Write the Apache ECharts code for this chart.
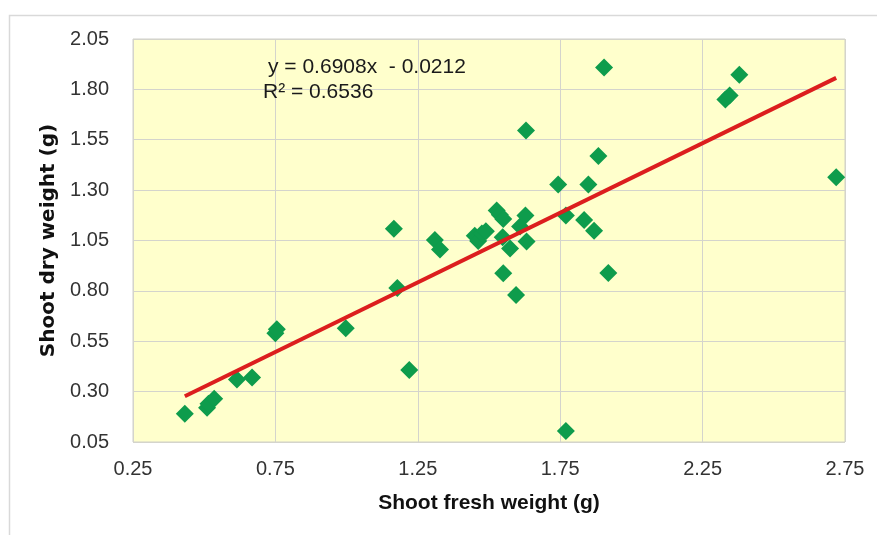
<!DOCTYPE html>
<html>
<head>
<meta charset="utf-8">
<script src="https://cdn.jsdelivr.net/npm/echarts@6/dist/echarts.min.js"></script>
<style>html,body{margin:0;padding:0;background:#fff}#c{width:877px;height:535px}</style>
</head>
<body>
<div id="c"></div>
<script>
// Shoot fresh weight (g)
const freshWeight = [0.432, 0.51, 0.515, 0.535, 0.615, 0.668, 0.75, 0.755, 0.997, 1.166, 1.178, 1.22, 1.31, 1.328, 1.45, 1.462, 1.475, 1.489, 1.527, 1.538, 1.55, 1.548, 1.574, 1.55, 1.595, 1.609, 1.628, 1.632, 1.63, 1.743, 1.77, 1.77, 1.834, 1.849, 1.869, 1.884, 1.904, 1.919, 2.33, 2.345, 2.379, 2.719];
// Shoot dry weight (g)
const dryWeight = [0.19, 0.22, 0.24, 0.265, 0.36, 0.37, 0.59, 0.61, 0.615, 1.108, 0.814, 0.407, 1.053, 1.005, 1.074, 1.048, 1.085, 1.096, 1.199, 1.178, 1.157, 1.066, 1.01, 0.887, 0.78, 1.12, 1.174, 1.045, 1.596, 1.328, 1.174, 0.105, 1.152, 1.328, 1.099, 1.469, 1.908, 0.889, 1.75, 1.77, 1.873, 1.364];
const xTicks = [0.25, 0.75, 1.25, 1.75, 2.25, 2.75];
const yTicks = [0.05, 0.30, 0.55, 0.80, 1.05, 1.30, 1.55, 1.80, 2.05];
const trendSlope = 0.6908;
const trendIntercept = -0.0212;
const equationText = 'y = 0.6908x  - 0.0212';
const r2Text = 'R² = 0.6536';

const points = freshWeight.map((x, i) => [x, dryWeight[i]]);
const xMin = Math.min(...freshWeight), xMax = Math.max(...freshWeight);
const trend = [[xMin, trendSlope * xMin + trendIntercept], [xMax, trendSlope * xMax + trendIntercept]];

const chart = echarts.init(document.getElementById('c'));
chart.setOption({
  animation: false,
  backgroundColor: '#ffffff',
  grid: { left: 133, right: 32, top: 39, bottom: 93, show: true, backgroundColor: '#FFFFCC', borderColor: '#D0D0C8', borderWidth: 1 },
  xAxis: {
    type: 'value', min: xTicks[0], max: xTicks[xTicks.length - 1], interval: 0.5,
    name: 'Shoot fresh weight (g)', nameLocation: 'middle', nameGap: 51,
    nameTextStyle: { fontFamily: 'Liberation Sans, Arial, sans-serif', fontWeight: 'bold', fontSize: 21, color: '#111' },
    axisLine: { show: false }, axisTick: { show: false },
    axisLabel: { margin: 17, fontFamily: 'Liberation Sans, Arial, sans-serif', fontSize: 20, color: '#333', formatter: v => v.toFixed(2) },
    splitLine: { show: true, lineStyle: { color: '#D4D4CC', width: 1 } }
  },
  yAxis: {
    type: 'value', min: yTicks[0], max: yTicks[yTicks.length - 1], interval: 0.25,
    name: 'Shoot dry weight (g)', nameLocation: 'middle', nameGap: 74,
    nameTextStyle: { fontFamily: 'DejaVu Sans, sans-serif', fontWeight: 'bold', fontSize: 20, color: '#111' },
    axisLine: { show: false }, axisTick: { show: false },
    axisLabel: { margin: 24, fontFamily: 'Liberation Sans, Arial, sans-serif', fontSize: 20, color: '#333', formatter: v => v.toFixed(2) },
    splitLine: { show: true, lineStyle: { color: '#D4D4CC', width: 1 } }
  },
  series: [
    {
      type: 'scatter', data: points, symbol: 'diamond', symbolSize: 18,
      itemStyle: { color: '#0E9C4C', opacity: 1 }, z: 3
    },
    {
      type: 'line', data: trend, symbol: 'none', showSymbol: false,
      lineStyle: { color: '#DC1E1E', width: 4 }, z: 4, silent: true
    }
  ],
  graphic: [
    { type: 'rect', left: 7, top: 13, shape: { width: 900, height: 600 }, style: { fill: 'none', stroke: '#D9D9D9', lineWidth: 1.5 }, z: -10 },
    { type: 'text', left: 268, top: 57, style: { text: equationText, font: '21px "Liberation Sans", Arial, sans-serif', fill: '#1a1a1a' }, z: 10 },
    { type: 'text', left: 263, top: 82, style: { text: r2Text, font: '21px "Liberation Sans", Arial, sans-serif', fill: '#1a1a1a' }, z: 10 }
  ]
});
</script>
</body>
</html>
